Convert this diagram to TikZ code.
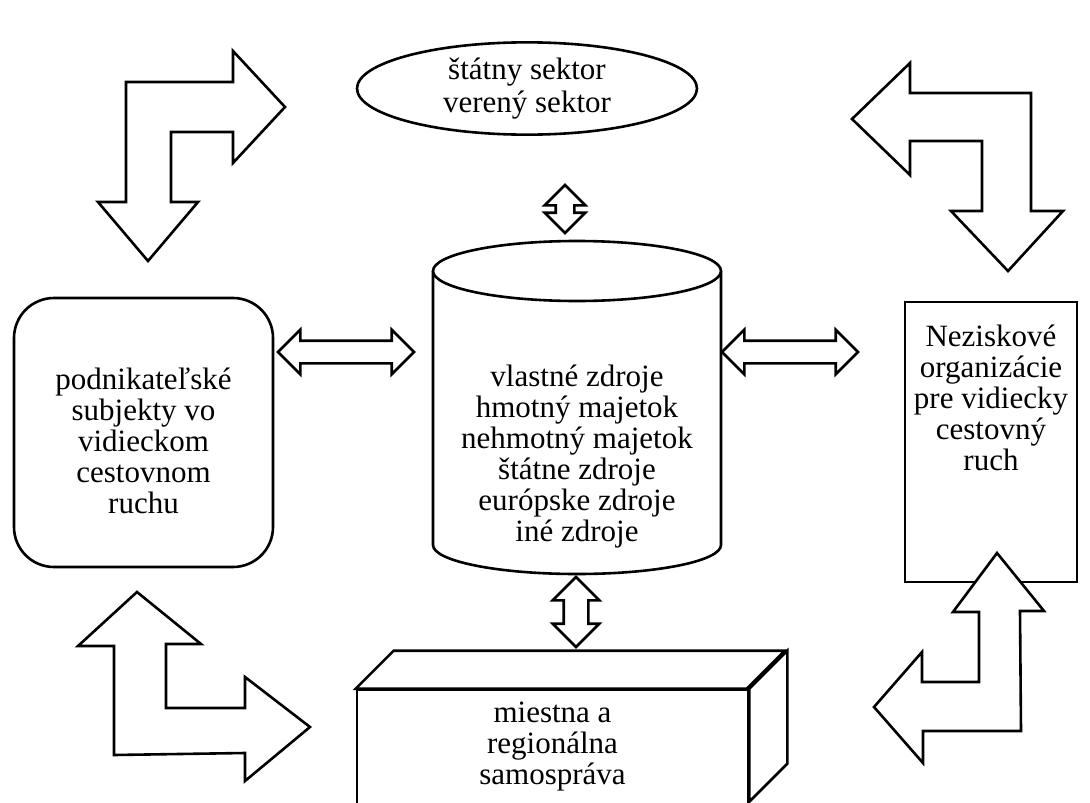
\documentclass[tikz,border=0pt]{standalone}
\usepackage{fontspec}
\setmainfont{Liberation Serif}
\usetikzlibrary{shapes.geometric,shapes.arrows}
\tikzset{
	blok/.style={draw, line width=2.6pt, fill=white, align=center, inner sep=2pt, font=\fontsize{31}{31}\selectfont},
	popis/.style={align=center, inner sep=0pt, font=\fontsize{31}{31}\selectfont},
	dvojsipka/.style={double arrow, draw, line width=2.6pt, fill=white, inner xsep=0pt, double arrow head extend=11pt, double arrow tip angle=90},
	lomena/.style={draw, line width=2.6pt, fill=white, line join=miter},
}
\begin{document}
\begin{tikzpicture}[x=1pt, y=-1pt]
		\useasboundingbox (0, 0) rectangle (1090, 803);
		\clip (0, 0) rectangle (1090, 803);
		% zdroje (valec)
		\filldraw[lomena] (433, 271) -- (433, 545) arc[start angle=180, end angle=0, x radius=144, y radius=29] -- (721, 271);
		\filldraw[lomena] (577, 271) ellipse [x radius=144, y radius=30];
		\node[popis] (zdroje) at (577, 457) {vlastné zdroje\\hmotný majetok\\nehmotný majetok\\štátne zdroje\\európske zdroje\\iné zdroje};
		\node[blok, ellipse, minimum width=340pt, minimum height=89pt, font=\fontsize{31}{33}\selectfont] (statny) at (527, 88.5) {štátny sektor\\verený sektor};
		\node[blok, rounded corners=40pt, minimum width=259pt, minimum height=269pt] (podnik) at (143.5, 432.5) {};
		\node[popis] (podniktext) at (143.5, 441) {podnikateľské\\subjekty vo\\vidieckom\\cestovnom\\ruchu};
		\node[blok, minimum width=172pt, minimum height=280pt] (neziskove) at (991, 442) {};
		\node[popis] (neziskovetext) at (991, 398) {Neziskové\\organizácie\\pre vidiecky\\cestovný\\ruch};
		% samosprava (kvader)
		\node[blok, minimum width=391pt, minimum height=130pt] (samosprava) at (552.5, 755) {};
		\node[popis] (samospravatext) at (552.5, 747) {miestna a\\regionálna\\samospráva};
		\filldraw[lomena] (samosprava.north west) -- ++(38, -38) -- ++(391, 0) -- ++(-38, 38) -- cycle;
		\filldraw[lomena] (samosprava.north east) -- ++(38, -38) -- ++(0, 113) -- ++(-38, 38) -- cycle;
		% dvojite sipky
		\node[dvojsipka, inner ysep=8pt, minimum height=48pt, minimum width=33pt, rotate=90] (s1) at (565, 209) {};
		\node[dvojsipka, inner ysep=11pt, minimum height=70pt, minimum width=42pt, rotate=90] (s2) at (576, 612) {};
		\node[dvojsipka, inner ysep=10pt, minimum height=136pt, minimum width=42pt] (s3) at (346, 352) {};
		\node[dvojsipka, inner ysep=10pt, minimum height=136pt, minimum width=42pt] (s4) at (790, 352) {};
		% lomene sipky v rohoch
		\filldraw[lomena] (285, 107) -- (233, 51) -- (233, 82) -- (126, 82) -- (126, 202) -- (98, 202) -- (148, 261) -- (198, 202) -- (171, 202) -- (171, 132) -- (233, 132) -- (233, 163) -- cycle;
		\filldraw[lomena] (852, 119) -- (910, 63) -- (910, 93) -- (1031, 93) -- (1031, 211) -- (1063, 211) -- (1008, 271) -- (951, 211) -- (982, 211) -- (982, 141) -- (910, 141) -- (910, 175) -- cycle;
		\filldraw[lomena] (137, 592) -- (201, 644) -- (166, 644) -- (166, 708) -- (245, 708) -- (245, 677) -- (310, 727) -- (245, 781) -- (245, 753) -- (114, 755) -- (114, 646) -- (78, 646) -- cycle;
		\filldraw[lomena] (997, 553) -- (1044, 611) -- (1020, 611) -- (1021, 731) -- (923, 731) -- (923, 763) -- (874, 707) -- (922, 652) -- (922, 682) -- (979, 682) -- (979, 612) -- (953, 612) -- cycle;
	\end{tikzpicture}
\end{document}
